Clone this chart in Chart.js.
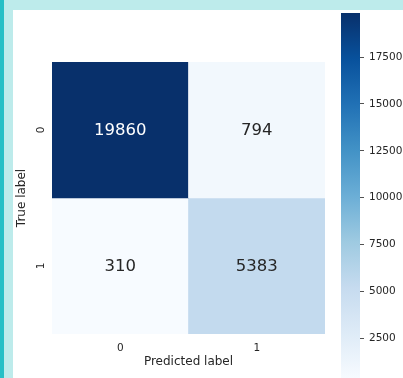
<!DOCTYPE html>
<html lang="en">
<head>
    <meta charset="UTF-8">
    <title>Confusion Matrix</title>
    <style>
        * { margin: 0; padding: 0; box-sizing: border-box; }
        html, body { width: 403px; height: 378px; overflow: hidden; }
        body {
            position: relative;
            background-color: #bdebeb;
            font-family: 'DejaVu Sans', sans-serif;
        }
        /* teal stripe on the left edge */
        .stripe { position: absolute; left: 0; top: 0; width: 4px; height: 378px; background: #26bfc6; }
        /* white figure panel */
        .panel { position: absolute; left: 13px; top: 10px; width: 390px; height: 368px; background: #fff; }
        #matrix { position: absolute; left: 0; top: 0; }
        #cbar { position: absolute; left: 330px; top: 0; }
    </style>
</head>
<body>
    <div class="stripe"></div>
    <div class="panel"></div>
    <canvas id="matrix" width="340" height="378"></canvas>
    <canvas id="cbar" width="73" height="400"></canvas>

    <script src="https://cdn.jsdelivr.net/npm/chart.js"></script>
    <script>
        // confusion matrix data (rows = true label, columns = predicted label)
        const predictedLabels = ['0', '1'];
        const trueLabels = ['0', '1'];
        const row0 = [19860, 794];
        const row1 = [310, 5383];
        const rows = [row0, row1];
        const colorbarTicks = [2500, 5000, 7500, 10000, 12500, 15000, 17500];

        const vmin = Math.min(...row0, ...row1);
        const vmax = Math.max(...row0, ...row1);

        // matplotlib "Blues" colormap anchors
        const blues = ['#f7fbff', '#deebf7', '#c6dbef', '#9ecae1', '#6baed6',
                       '#4292c6', '#2171b5', '#08519c', '#08306b'];

        function hexToRgb(h) {
            return [parseInt(h.slice(1, 3), 16), parseInt(h.slice(3, 5), 16), parseInt(h.slice(5, 7), 16)];
        }

        function bluesAt(t) {
            t = Math.max(0, Math.min(1, t));
            const pos = t * (blues.length - 1);
            const i = Math.min(Math.floor(pos), blues.length - 2);
            const f = pos - i;
            const a = hexToRgb(blues[i]), b = hexToRgb(blues[i + 1]);
            const c = a.map((v, k) => Math.round(v + (b[k] - v) * f));
            return 'rgb(' + c.join(',') + ')';
        }

        const textColor = '#262626';
        const fontFamily = "'DejaVu Sans', sans-serif";

        // write the counts in the middle of each cell
        const cellText = {
            id: 'cellText',
            afterDatasetsDraw(chart) {
                const ctx = chart.ctx;
                ctx.save();
                ctx.font = '16.5px ' + fontFamily;
                ctx.textAlign = 'center';
                ctx.textBaseline = 'middle';
                chart.data.datasets.forEach((ds, di) => {
                    const meta = chart.getDatasetMeta(di);
                    meta.data.forEach((bar, i) => {
                        const v = rows[di][i];
                        const t = (v - vmin) / (vmax - vmin);
                        const p = bar.getCenterPoint();
                        ctx.fillStyle = t > 0.5 ? '#ffffff' : textColor;
                        ctx.fillText(String(v), p.x, p.y + 1);
                    });
                });
                ctx.restore();
            }
        };

        new Chart(document.getElementById('matrix'), {
            type: 'bar',
            data: {
                labels: predictedLabels,
                datasets: rows.map((r, i) => ({
                    label: trueLabels[i],
                    data: r.map(() => [i, i + 1]),
                    backgroundColor: r.map(v => bluesAt((v - vmin) / (vmax - vmin))),
                    borderWidth: 0,
                    grouped: false,
                    barPercentage: 1,
                    categoryPercentage: 1
                }))
            },
            options: {
                responsive: false,
                animation: false,
                layout: { padding: { left: 13, top: 62, right: 15, bottom: 0 } },
                plugins: { legend: { display: false }, tooltip: { enabled: false } },
                scales: {
                    x: {
                        grid: { display: false },
                        border: { display: false },
                        ticks: { color: textColor, padding: 0, font: { family: fontFamily, size: 10.5 } },
                        title: {
                            display: true,
                            text: 'Predicted label',
                            color: textColor,
                            padding: { top: 0, bottom: 9 },
                            font: { family: fontFamily, size: 12 }
                        },
                        afterFit(scale) { scale.height = 44; }
                    },
                    y: {
                        type: 'linear',
                        min: 0,
                        max: 2,
                        reverse: true,
                        grid: { display: false },
                        border: { display: false },
                        afterBuildTicks(scale) {
                            scale.ticks = trueLabels.map((l, i) => ({ value: i + 0.5 }));
                        },
                        ticks: {
                            color: textColor,
                            padding: -1,
                            minRotation: 90,
                            maxRotation: 90,
                            crossAlign: 'center',
                            font: { family: fontFamily, size: 10.5 },
                            callback: (v, i) => trueLabels[i]
                        },
                        title: {
                            display: true,
                            text: 'True label',
                            color: textColor,
                            padding: { top: 2, bottom: 0 },
                            font: { family: fontFamily, size: 12 }
                        },
                        afterFit(scale) { scale.width = 39; }
                    }
                }
            },
            plugins: [cellText]
        });

        // colour bar
        new Chart(document.getElementById('cbar'), {
            type: 'bar',
            data: {
                labels: [''],
                datasets: [{
                    data: [[vmin, vmax]],
                    borderWidth: 0,
                    barPercentage: 1,
                    categoryPercentage: 1,
                    backgroundColor(c) {
                        const area = c.chart.chartArea;
                        if (!area) return blues[4];
                        const g = c.chart.ctx.createLinearGradient(0, area.bottom, 0, area.top);
                        blues.forEach((col, i) => g.addColorStop(i / (blues.length - 1), col));
                        return g;
                    }
                }]
            },
            options: {
                responsive: false,
                animation: false,
                layout: { padding: { left: 11, top: 13, right: 0, bottom: 21 } },
                plugins: { legend: { display: false }, tooltip: { enabled: false } },
                scales: {
                    x: { display: false },
                    y: {
                        position: 'right',
                        min: vmin,
                        max: vmax,
                        border: { display: false },
                        grid: { drawOnChartArea: false, drawTicks: true, tickLength: 4, color: textColor, lineWidth: 0.8 },
                        afterBuildTicks(scale) {
                            scale.ticks = colorbarTicks.map(v => ({ value: v }));
                        },
                        ticks: {
                            color: textColor,
                            padding: 5,
                            font: { family: fontFamily, size: 10.5 },
                            callback: v => String(v)
                        },
                        afterFit(scale) { scale.width = 43; }
                    }
                }
            }
        });
    </script>
</body>
</html>
